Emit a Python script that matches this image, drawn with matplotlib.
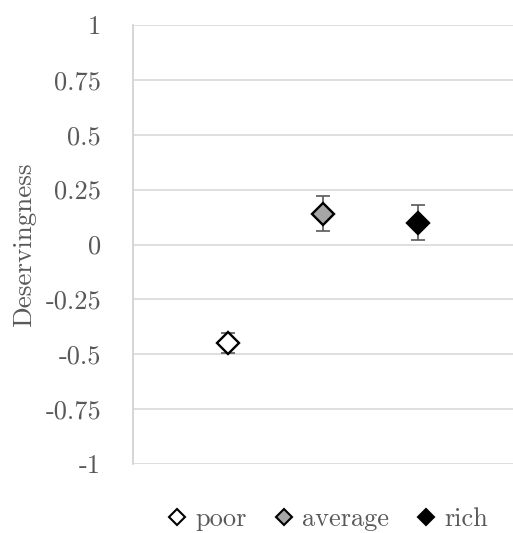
import matplotlib
matplotlib.use("Agg")
import matplotlib.pyplot as plt
from matplotlib.lines import Line2D

plt.rcParams['font.family'] = ['cmr10', 'DejaVu Serif']
plt.rcParams['axes.unicode_minus'] = False

categories = ['poor', 'average', 'rich']
values = [-0.45, 0.14, 0.10]
errors = [0.045, 0.08, 0.08]
facecolors = ['white', '#a6a6a6', 'black']
yticks = [1, 0.75, 0.5, 0.25, 0, -0.25, -0.5, -0.75, -1]
yticklabels = ['1', '0.75', '0.5', '0.25', '0', '-0.25', '-0.5', '-0.75', '-1']

fig = plt.figure(figsize=(5.13, 5.33), dpi=100)
ax = fig.add_axes([133/513, 1 - 464/533, (513-133)/513, (464-25)/533])

gray = '#595959'
for i, (cat, v, e, fc) in enumerate(zip(categories, values, errors, facecolors)):
    ax.errorbar(i + 1, v, yerr=e, fmt='none', ecolor=gray, elinewidth=1.2,
                capsize=5, capthick=1.2, zorder=3)
    ax.plot(i + 1, v, marker='D', markersize=11.5, markerfacecolor=fc,
            markeredgecolor='black', markeredgewidth=1.7, linestyle='none', zorder=4)

ax.set_xlim(0, 4)
ax.set_ylim(-1, 1)
ax.set_yticks(yticks)
ax.set_yticklabels(yticklabels)
ax.set_xticks([])
ax.tick_params(axis='y', length=0, pad=23, labelsize=19, labelcolor=gray)
for lab in ax.get_yticklabels():
    lab.set_horizontalalignment('right')
ax.grid(axis='y', color='#d9d9d9', linewidth=1.2)
ax.set_axisbelow(True)
for s in ['top', 'right', 'bottom']:
    ax.spines[s].set_visible(False)
ax.spines['left'].set_color('#d0d0d0')
ax.spines['left'].set_linewidth(1.2)

fig.text(24/513, 1 - 245/533, 'Deservingness', rotation=90, ha='center', va='center',
         fontsize=19.5, color=gray)

handles = [Line2D([], [], marker='D', markersize=8.5, markerfacecolor=fc,
                  markeredgecolor='black', markeredgewidth=1.5, linestyle='none')
           for fc in facecolors]
fig.legend(handles, categories, loc='center', bbox_to_anchor=(326/513, 1 - 519/533),
           ncol=3, frameon=False, fontsize=19, labelcolor=gray, handletextpad=0.2,
           columnspacing=0.9, handlelength=1.0)

fig.savefig('out.png', dpi=100)
